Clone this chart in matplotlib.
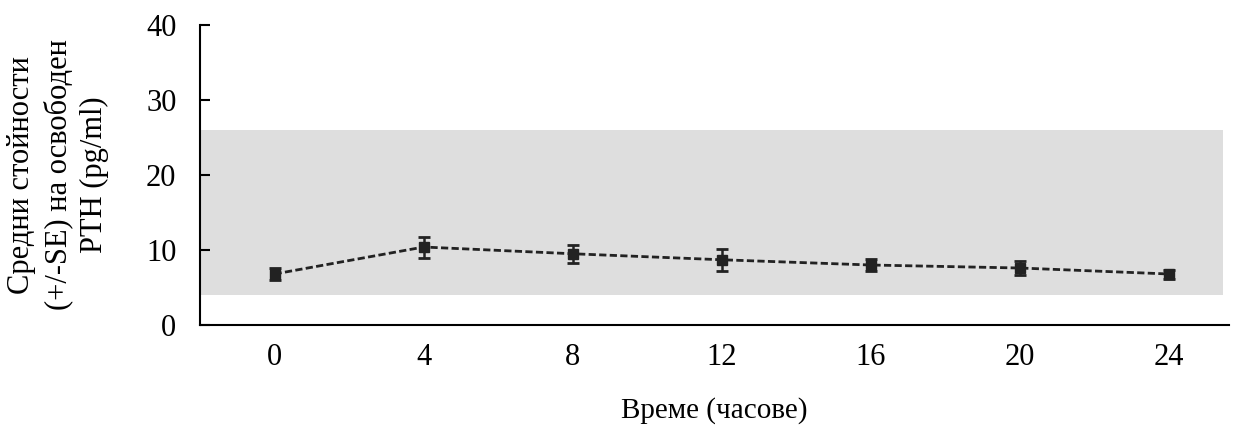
import matplotlib
matplotlib.use("Agg")
import matplotlib.pyplot as plt

# ---------------- Data ----------------
hours = [0, 4, 8, 12, 16, 20, 24]
pth_mean = [6.8, 10.4, 9.5, 8.7, 8.0, 7.6, 6.8]
pth_se = [0.8, 1.4, 1.2, 1.5, 0.8, 0.9, 0.6]
normal_range = (4, 26)

y_ticks = [0, 10, 20, 30, 40]
x_label = "Време (часове)"
y_label = "Средни стойности\n(+/-SE) на освободен\nPTH (pg/ml)"

# ---------------- Plotting ----------------
plt.rcParams['font.family'] = ['Liberation Serif', 'DejaVu Serif']

fig = plt.figure(figsize=(12.33, 4.25), dpi=100)
ax = fig.add_axes([0.1622, 0.2353, 0.8345, 0.7057])

ax.axhspan(normal_range[0], normal_range[1], xmax=0.994, color='#dedede', zorder=0, lw=0)

line = ax.errorbar(hours, pth_mean, yerr=pth_se, color='#222222', marker='s',
                   markersize=7, linestyle='--', linewidth=2, capsize=4.3,
                   capthick=2, elinewidth=1.8, zorder=3)
line[0].set_dashes((2.6, 1.2))

ax.set_xlim(-2, 25.6)
ax.set_ylim(0, 40)
ax.set_xticks(hours)
ax.set_xticklabels([str(h) for h in hours])
ax.set_yticks(y_ticks)

ax.tick_params(axis='x', length=0, pad=13, labelsize=22)
ax.tick_params(axis='y', direction='in', length=7, width=1.5, pad=17, labelsize=22)

for side in ['top', 'right']:
    ax.spines[side].set_visible(False)
for side in ['left', 'bottom']:
    ax.spines[side].set_linewidth(1.5)

ax.set_xlabel(x_label, fontsize=21, labelpad=18)
ax.set_ylabel(y_label, fontsize=22, labelpad=27, linespacing=1.3)

fig.savefig("out.png", dpi=100)
